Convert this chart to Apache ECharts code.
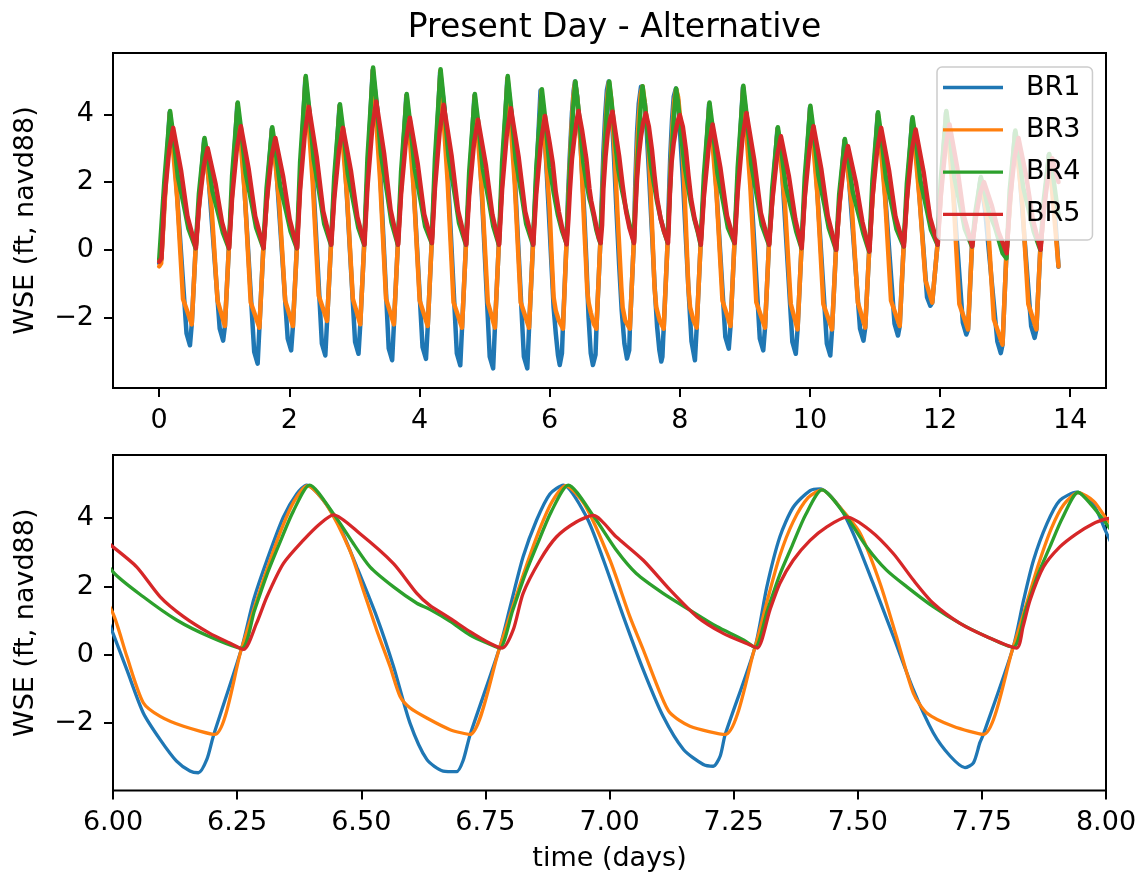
<!DOCTYPE html>
<html><head><meta charset="utf-8">
<script src="https://cdn.jsdelivr.net/npm/echarts@6/dist/echarts.min.js"></script>
<style>html,body{margin:0;padding:0;background:#fff}#c{width:1143px;height:879px}</style>
</head><body><div id="c"></div>
<script>
const titleText = 'Present Day - Alternative';
const yName = 'WSE (ft, navd88)';
const xName = 'time (days)';
const seriesNames = ['BR1', 'BR3', 'BR4', 'BR5'];
const colors = ['#1f77b4', '#ff7f0e', '#2ca02c', '#d62728'];
const topXTicks = [0, 2, 4, 6, 8, 10, 12, 14];
const yTicks = [-2, 0, 2, 4];

// [time (days), WSE (ft)]
const br1 = [[0,-0.4],[0.03,-0.3],[0.16,4.05],[0.23,2.9],[0.42,-2.47],[0.473,-2.82],[0.5,-2.2],
[0.56,0.05],[0.69,3.25],[0.76,2.1],[0.93,-2.33],[0.983,-2.68],[1.01,-2.25],
[1.07,0.05],[1.2,4.3],[1.27,3.1],[1.46,-3.01],[1.513,-3.36],[1.54,-2.3],
[1.6,0.05],[1.73,3.57],[1.8,2.4],[1.975,-2.62],[2.028,-2.97],[2.055,-2.25],
[2.115,0.05],[2.245,5.05],[2.315,3.9],[2.5,-2.77],[2.553,-3.12],[2.58,-2.1],
[2.64,0.15],[2.77,4.25],[2.84,3.1],[3.01,-2.72],[3.063,-3.07],[3.09,-2.2],
[3.15,0.15],[3.28,5.3],[3.35,4.15],[3.527,-2.91],[3.58,-3.26],[3.607,-2.2],
[3.667,0.15],[3.797,4.55],[3.867,3.4],[4.047,-2.87],[4.1,-3.22],[4.127,-2.25],
[4.187,0.2],[4.317,5.25],[4.387,4.1],[4.574,-3.06],[4.627,-3.41],[4.654,-2.3],
[4.714,0.15],[4.844,4.55],[4.914,3.4],[5.079,-3.15],[5.132,-3.5],[5.159,-2.3],
[5.219,0.15],[5.349,5.05],[5.419,3.9],[5.604,-3.15],[5.657,-3.5],[5.684,-2.3],
[5.744,0.15],[5.86,4.7],[5.925,3.4],
[6.0,0.63],[6.028,-0.44],[6.061,-1.7],[6.095,-2.48],[6.128,-3.11],[6.155,-3.4],[6.172,-3.45],[6.189,-3.06],[6.202,-2.38],
[6.259,0.19],[6.283,1.6],[6.31,2.77],[6.343,4.03],[6.37,4.71],[6.39,4.97],[6.424,4.52],[6.457,3.74],[6.491,2.57],[6.531,1.12],
[6.565,-0.34],[6.598,-1.99],[6.632,-3.06],[6.665,-3.4],[6.692,-3.42],[6.705,-3.1],[6.719,-2.35],
[6.779,0.22],[6.8,1.41],[6.826,2.87],[6.853,3.94],[6.88,4.71],[6.907,4.97],[6.954,4.03],[6.988,2.77],[7.028,1.12],
[7.068,-0.44],[7.108,-1.8],[7.149,-2.77],[7.189,-3.21],[7.209,-3.26],[7.223,-2.96],[7.233,-2.33],
[7.293,0.22],[7.317,2.0],[7.343,3.45],[7.37,4.32],[7.404,4.81],[7.424,4.86],[7.464,4.32],[7.491,3.55],[7.531,2.09],[7.572,0.53],
[7.612,-1.02],[7.652,-2.28],[7.686,-2.96],[7.716,-3.3],[7.733,-3.16],[7.746,-2.57],[7.753,-2.33],
[7.813,0.22],[7.834,1.6],[7.854,2.77],[7.881,3.84],[7.907,4.52],[7.941,4.76],[7.974,4.42],[8.0,3.6],
[8.05,2.0],[8.13,-1.05],[8.18,-2.7],[8.233,-3.26],[8.26,-2.3],
[8.32,0.15],[8.45,4.3],[8.52,3.15],[8.7,-2.57],[8.753,-2.92],[8.78,-2.25],
[8.84,0.2],[8.97,4.8],[9.04,3.65],[9.23,-2.62],[9.283,-2.97],[9.31,-2.3],
[9.37,0.15],[9.5,3.57],[9.57,2.4],[9.73,-2.72],[9.783,-3.07],[9.81,-2.35],
[9.87,0.05],[10.0,4.2],[10.07,3.05],[10.26,-2.77],[10.313,-3.12],[10.34,-2.35],
[10.4,0.0],[10.53,3.22],[10.6,2.1],[10.77,-2.33],[10.823,-2.68],[10.85,-2.3],
[10.91,-0.05],[11.04,4.0],[11.11,2.85],[11.3,-2.18],[11.353,-2.53],[11.38,-2.25],
[11.44,0.1],[11.57,3.85],[11.64,2.7],[11.8,-1.4],[11.85,-1.65],[11.88,-1.56],
[11.96,0.15],[12.09,4.05],[12.16,2.9],[12.35,-2.15],[12.403,-2.5],[12.43,-2.35],
[12.49,0.1],[12.62,2.1],[12.69,1.2],[12.88,-2.7],[12.933,-3.05],[12.96,-2.8],
[13.02,-0.1],[13.15,3.47],[13.22,2.3],[13.4,-2.25],[13.453,-2.6],[13.48,-2.35],
[13.54,0.0],[13.67,2.8],[13.74,1.8],[13.82,-0.5]];

const br3 = [[0,-0.49],[0.03,-0.4],[0.165,4.05],[0.275,1.56],[0.366,-1.45],[0.5,-2.2],
[0.56,0.05],[0.695,3.25],[0.805,1.25],[0.896,-1.5],[1.01,-2.25],
[1.07,0.05],[1.205,4.3],[1.315,1.65],[1.406,-1.55],[1.54,-2.3],
[1.6,0.05],[1.735,3.57],[1.845,1.38],[1.936,-1.5],[2.055,-2.25],
[2.115,0.05],[2.25,5.08],[2.36,1.95],[2.451,-1.35],[2.58,-2.1],
[2.64,0.15],[2.775,4.25],[2.885,1.63],[2.976,-1.45],[3.09,-2.2],
[3.15,0.15],[3.285,5.33],[3.395,2.04],[3.486,-1.45],[3.607,-2.2],
[3.667,0.15],[3.802,4.55],[3.912,1.75],[4.003,-1.5],[4.127,-2.25],
[4.187,0.2],[4.322,5.28],[4.432,2.03],[4.523,-1.55],[4.654,-2.3],
[4.714,0.15],[4.849,4.55],[4.959,1.75],[5.05,-1.55],[5.159,-2.3],
[5.219,0.15],[5.354,5.08],[5.464,1.95],[5.555,-1.55],[5.684,-2.3],
[5.744,0.15],[5.875,4.7],[5.935,3.0],
[6.0,1.21],[6.028,-0.05],[6.061,-1.4],[6.095,-1.8],[6.142,-2.09],[6.205,-2.33],
[6.259,0.19],[6.285,1.4],[6.31,2.5],[6.34,3.7],[6.365,4.5],[6.392,4.95],[6.43,4.4],[6.477,3.06],[6.504,1.9],[6.531,0.73],
[6.558,-0.34],[6.578,-1.21],[6.598,-1.55],[6.632,-1.85],[6.679,-2.19],[6.719,-2.33],
[6.779,0.22],[6.805,1.4],[6.83,2.5],[6.86,3.7],[6.885,4.5],[6.912,4.95],[6.95,4.4],[7.001,2.77],[7.041,1.12],[7.068,0.15],
[7.102,-1.12],[7.122,-1.7],[7.162,-2.09],[7.233,-2.33],
[7.293,0.22],[7.318,1.6],[7.343,2.9],[7.37,3.9],[7.4,4.6],[7.428,4.83],[7.465,4.3],[7.505,3.55],[7.545,2.09],[7.578,0.53],
[7.612,-1.12],[7.639,-1.7],[7.692,-2.09],[7.753,-2.33],
[7.813,0.22],[7.838,1.4],[7.863,2.6],[7.89,3.7],[7.915,4.4],[7.944,4.75],[7.975,4.5],[8.0,4.0],
[8.025,3.55],[8.065,2.09],[8.098,0.53],[8.132,-1.12],[8.159,-1.7],[8.212,-2.09],[8.26,-2.3],
[8.32,0.15],[8.455,4.3],[8.565,1.65],[8.656,-1.5],[8.78,-2.25],
[8.84,0.2],[8.975,4.8],[9.085,1.84],[9.176,-1.55],[9.31,-2.3],
[9.37,0.15],[9.505,3.57],[9.615,1.38],[9.706,-1.6],[9.81,-2.35],
[9.87,0.05],[10.005,4.2],[10.115,1.62],[10.206,-1.6],[10.34,-2.35],
[10.4,0.0],[10.535,3.22],[10.645,1.24],[10.736,-1.55],[10.85,-2.3],
[10.91,-0.05],[11.045,4.0],[11.155,1.54],[11.246,-1.5],[11.38,-2.25],
[11.44,0.1],[11.575,3.85],[11.685,1.49],[11.776,-0.9],[11.88,-1.56],
[11.96,0.15],[12.095,4.05],[12.205,1.56],[12.296,-1.6],[12.43,-2.35],
[12.49,0.1],[12.625,2.1],[12.735,0.8],[12.826,-2.05],[12.96,-2.8],
[13.02,-0.1],[13.155,3.47],[13.265,1.34],[13.356,-1.6],[13.48,-2.35],
[13.54,0.0],[13.675,2.8],[13.82,-0.49]];

const br4 = [[0,-0.3],[0.03,-0.3],[0.08,2.05],[0.167,4.1],[0.215,3.4],[0.289,2.13],[0.383,1.27],[0.45,0.62],
[0.56,0.05],[0.61,1.65],[0.697,3.3],[0.745,2.74],[0.819,1.72],[0.913,1.02],[0.98,0.5],
[1.07,0.05],[1.12,2.18],[1.207,4.35],[1.255,3.61],[1.329,2.26],[1.423,1.35],[1.49,0.65],
[1.6,0.05],[1.65,1.81],[1.737,3.62],[1.785,3.0],[1.859,1.88],[1.953,1.12],[2.02,0.54],
[2.115,0.05],[2.165,2.57],[2.252,5.13],[2.3,4.26],[2.374,2.67],[2.468,1.59],[2.535,0.77],
[2.64,0.15],[2.69,2.15],[2.777,4.3],[2.825,3.57],[2.899,2.24],[2.993,1.33],[3.06,0.65],
[3.15,0.15],[3.2,2.69],[3.287,5.38],[3.335,4.47],[3.409,2.8],[3.503,1.67],[3.57,0.81],
[3.667,0.15],[3.717,2.3],[3.804,4.6],[3.852,3.82],[3.926,2.39],[4.02,1.43],[4.087,0.69],
[4.187,0.2],[4.237,2.67],[4.324,5.33],[4.372,4.42],[4.446,2.77],[4.54,1.65],[4.607,0.8],
[4.714,0.15],[4.764,2.3],[4.851,4.6],[4.899,3.82],[4.973,2.39],[5.067,1.43],[5.134,0.69],
[5.219,0.15],[5.269,2.57],[5.356,5.13],[5.404,4.26],[5.478,2.67],[5.572,1.59],[5.639,0.77],
[5.744,0.15],[5.794,2.37],[5.881,4.74],[5.929,3.93],
[6.0,2.43],[6.061,1.7],[6.128,1.02],[6.195,0.53],[6.259,0.19],
[6.285,1.3],[6.31,2.35],[6.335,3.25],[6.363,4.2],[6.396,4.97],[6.444,4.13],[6.484,3.26],[6.518,2.57],[6.565,1.99],
[6.612,1.51],[6.638,1.33],[6.679,0.98],[6.719,0.58],[6.759,0.31],[6.779,0.2],
[6.805,1.3],[6.83,2.35],[6.855,3.25],[6.883,4.2],[6.917,4.97],[6.967,4.08],[7.014,3.06],[7.054,2.38],[7.108,1.8],
[7.162,1.31],[7.216,0.83],[7.27,0.44],[7.293,0.22],
[7.318,1.3],[7.343,2.35],[7.368,3.2],[7.395,4.1],[7.428,4.83],[7.478,4.03],[7.518,3.16],[7.558,2.48],[7.599,1.99],
[7.652,1.41],[7.706,0.92],[7.76,0.53],[7.813,0.22],
[7.838,1.3],[7.863,2.35],[7.888,3.2],[7.912,4.0],[7.944,4.76],[7.97,4.4],[8.0,3.85],
[8.034,3.16],[8.074,2.48],[8.115,1.99],[8.168,1.41],[8.222,0.92],[8.276,0.53],
[8.32,0.15],[8.37,2.18],[8.457,4.35],[8.505,3.61],[8.579,2.26],[8.673,1.35],[8.74,0.65],
[8.84,0.2],[8.89,2.42],[8.977,4.84],[9.025,4.02],[9.099,2.52],[9.193,1.5],[9.26,0.73],
[9.37,0.15],[9.42,1.81],[9.507,3.62],[9.555,3.0],[9.629,1.88],[9.723,1.12],[9.79,0.54],
[9.87,0.05],[9.92,2.13],[10.007,4.25],[10.055,3.53],[10.129,2.21],[10.223,1.32],[10.29,0.64],
[10.4,0.0],[10.45,1.64],[10.537,3.27],[10.585,2.71],[10.659,1.7],[10.753,1.01],[10.82,0.49],
[10.91,-0.05],[10.96,2.03],[11.047,4.06],[11.095,3.37],[11.169,2.11],[11.263,1.26],[11.33,0.61],
[11.44,0.1],[11.49,1.96],[11.577,3.91],[11.625,3.25],[11.699,2.03],[11.793,1.21],[11.86,0.59],
[11.96,0.15],[12.01,2.05],[12.097,4.1],[12.145,3.4],[12.219,2.13],[12.313,1.27],[12.38,0.62],
[12.49,0.1],[12.54,1.08],[12.627,2.15],[12.675,1.78],[12.749,1.12],[12.843,0.67],[12.96,-0.1],
[13.02,-0.25],[13.07,1.76],[13.157,3.52],[13.205,2.92],[13.279,1.83],[13.373,1.09],[13.44,0.53],
[13.54,0.0],[13.59,1.42],[13.677,2.83],[13.725,2.35],[13.82,1.0]];

const br5 = [[0,-0.35],[0.035,-0.25],[0.08,1.5],[0.154,2.95],[0.215,3.6],[0.336,2.34],[0.436,0.97],
[0.565,0.05],[0.61,1.26],[0.684,2.46],[0.745,3.0],[0.866,1.95],[0.966,0.81],
[1.075,0.05],[1.12,1.53],[1.194,2.99],[1.255,3.65],[1.376,2.37],[1.476,0.99],
[1.605,0.05],[1.65,1.39],[1.724,2.71],[1.785,3.3],[1.906,2.15],[2.006,0.89],
[2.12,0.05],[2.165,1.77],[2.239,3.46],[2.3,4.22],[2.421,2.74],[2.521,1.14],
[2.645,0.15],[2.69,1.51],[2.764,2.95],[2.825,3.6],[2.946,2.34],[3.046,0.97],
[3.155,0.15],[3.2,1.84],[3.274,3.59],[3.335,4.38],[3.456,2.85],[3.556,1.18],
[3.672,0.15],[3.717,1.64],[3.791,3.2],[3.852,3.9],[3.973,2.54],[4.073,1.05],
[4.192,0.2],[4.237,1.8],[4.311,3.51],[4.372,4.28],[4.493,2.78],[4.593,1.16],
[4.719,0.15],[4.764,1.61],[4.838,3.15],[4.899,3.84],[5.02,2.5],[5.12,1.04],
[5.224,0.15],[5.269,1.76],[5.343,3.43],[5.404,4.18],[5.525,2.72],[5.625,1.13],
[5.749,0.15],[5.794,1.64],[5.868,3.2],[5.929,3.95],
[6.0,3.16],[6.048,2.57],[6.095,1.7],[6.142,1.12],[6.195,0.63],[6.235,0.35],[6.263,0.16],
[6.289,0.92],[6.31,1.7],[6.343,2.67],[6.383,3.35],[6.417,3.84],[6.444,4.1],[6.497,3.55],[6.565,2.67],[6.612,1.8],
[6.638,1.45],[6.679,1.07],[6.719,0.68],[6.759,0.34],[6.784,0.2],
[6.806,0.73],[6.826,1.8],[6.86,2.77],[6.893,3.45],[6.933,3.89],[6.967,4.08],[7.014,3.45],[7.068,2.77],[7.122,1.9],
[7.176,1.12],[7.229,0.63],[7.283,0.29],[7.298,0.2],
[7.323,1.31],[7.343,2.09],[7.37,2.77],[7.404,3.35],[7.437,3.74],[7.478,4.03],[7.525,3.64],[7.572,2.96],[7.612,2.19],
[7.652,1.51],[7.706,0.92],[7.76,0.53],[7.82,0.2],
[7.833,0.83],[7.847,1.6],[7.874,2.57],[7.907,3.16],[7.941,3.55],[7.974,3.84],[8.0,3.98],
[8.01,4.0],[8.047,3.64],[8.094,2.96],[8.134,2.19],[8.174,1.51],[8.228,0.92],[8.282,0.53],
[8.325,0.15],[8.37,1.55],[8.444,3.03],[8.505,3.7],[8.626,2.4],[8.726,1.0],
[8.845,0.2],[8.89,1.7],[8.964,3.31],[9.025,4.04],[9.146,2.63],[9.246,1.09],
[9.375,0.15],[9.42,1.41],[9.494,2.75],[9.555,3.35],[9.676,2.18],[9.776,0.9],
[9.875,0.05],[9.92,1.53],[9.994,2.99],[10.055,3.65],[10.176,2.37],[10.276,0.99],
[10.405,0.0],[10.45,1.29],[10.524,2.51],[10.585,3.06],[10.706,1.99],[10.806,0.83],
[10.915,-0.05],[10.96,1.51],[11.034,2.95],[11.095,3.6],[11.216,2.34],[11.316,0.97],
[11.445,0.1],[11.49,1.49],[11.564,2.91],[11.625,3.55],[11.746,2.31],[11.846,0.96],
[11.965,0.15],[12.01,1.55],[12.084,3.03],[12.145,3.7],[12.266,2.4],[12.366,1.0],
[12.495,0.1],[12.54,0.84],[12.614,1.64],[12.675,2.0],[12.796,1.3],[12.896,0.54],
[13.025,-0.1],[13.07,1.39],[13.144,2.71],[13.205,3.3],[13.326,2.15],[13.426,0.89],
[13.545,0.0],[13.59,1.13],[13.664,2.21],[13.725,2.7],[13.82,2.0]];

const seriesData = [br1, br3, br4, br5];

const FONT = 'DejaVu Sans';
const minusFmt = v => (v < 0 ? '\u2212' : '') + Math.abs(v);
const txt = (size) => ({ fontFamily: FONT, fontSize: size, color: '#000' });

const chart = echarts.init(document.getElementById('c'), null, { renderer: 'canvas' });

function xAxisCfg(grid, extra) {
  return Object.assign({
    gridIndex: grid, type: 'value',
    axisLine: { show: false, onZero: false },
    axisTick: { show: true, inside: false, length: 9, lineStyle: { color: '#000', width: 2 } },
    axisLabel: Object.assign(txt(27), { margin: 19 }),
    splitLine: { show: false }
  }, extra);
}
function yAxisCfg(grid, extra) {
  return Object.assign({
    gridIndex: grid, type: 'value',
    name: yName, nameLocation: 'middle', nameGap: 74, nameTextStyle: txt(27),
    axisLine: { show: false, onZero: false },
    axisTick: { show: true, inside: false, length: 9, lineStyle: { color: '#000', width: 2 }, customValues: yTicks },
    axisLabel: Object.assign(txt(27), { margin: 19, formatter: minusFmt, customValues: yTicks }),
    splitLine: { show: false }
  }, extra);
}

const series = [];
[0, 1].forEach(g => {
  seriesNames.forEach((n, i) => {
    series.push({
      name: n, type: 'line', xAxisIndex: g, yAxisIndex: g,
      data: seriesData[i], showSymbol: false, symbol: 'none', clip: true,
      smooth: g === 0 ? false : 0.25,
      animation: false, silent: true,
      color: colors[i],
      itemStyle: { color: colors[i] },
      lineStyle: { color: colors[i], width: g === 0 ? 4.5 : 3.3, join: 'round', cap: 'round' },
      emphasis: { disabled: true }
    });
  });
});

const xTop = xAxisCfg(0, { min: -0.71, max: 14.55 });
xTop.axisTick.customValues = topXTicks;
xTop.axisLabel.customValues = topXTicks;
xTop.axisLabel.formatter = minusFmt;

const xBot = xAxisCfg(1, {
  min: 6, max: 8, interval: 0.25,
  name: xName, nameLocation: 'middle', nameGap: 55, nameTextStyle: txt(27)
});
xBot.axisLabel.formatter = v => v.toFixed(2);

chart.setOption({
  backgroundColor: '#fff',
  animation: false,
  title: {
    text: titleText, left: 609.5, top: 7, textAlign: 'center',
    textStyle: { fontFamily: FONT, fontSize: 33, fontWeight: 'normal', color: '#000' }
  },
  legend: {
    data: seriesNames, orient: 'vertical', left: 937, top: 67,
    padding: [7, 12, 12, 6], itemWidth: 60, itemHeight: 3.3, itemGap: 15.3, icon: 'rect',
    textStyle: Object.assign(txt(27), { lineHeight: 27, padding: [0, 0, 0, 18] }),
    backgroundColor: 'rgba(255,255,255,0.8)', borderColor: '#cccccc', borderWidth: 1.5, borderRadius: 5,
    selectedMode: false, zlevel: 1, z: 10
  },
  grid: [
    { left: 113, top: 53, width: 993, height: 335, show: true, borderColor: '#000', borderWidth: 2, backgroundColor: 'transparent' },
    { left: 113, top: 455, width: 993, height: 335.5, show: true, borderColor: '#000', borderWidth: 2, backgroundColor: 'transparent' }
  ],
  xAxis: [xTop, xBot],
  yAxis: [
    yAxisCfg(0, { min: -4.08, max: 5.81 }),
    yAxisCfg(1, { min: -3.97, max: 5.85 })
  ],
  series: series
});
</script>
</body></html>
